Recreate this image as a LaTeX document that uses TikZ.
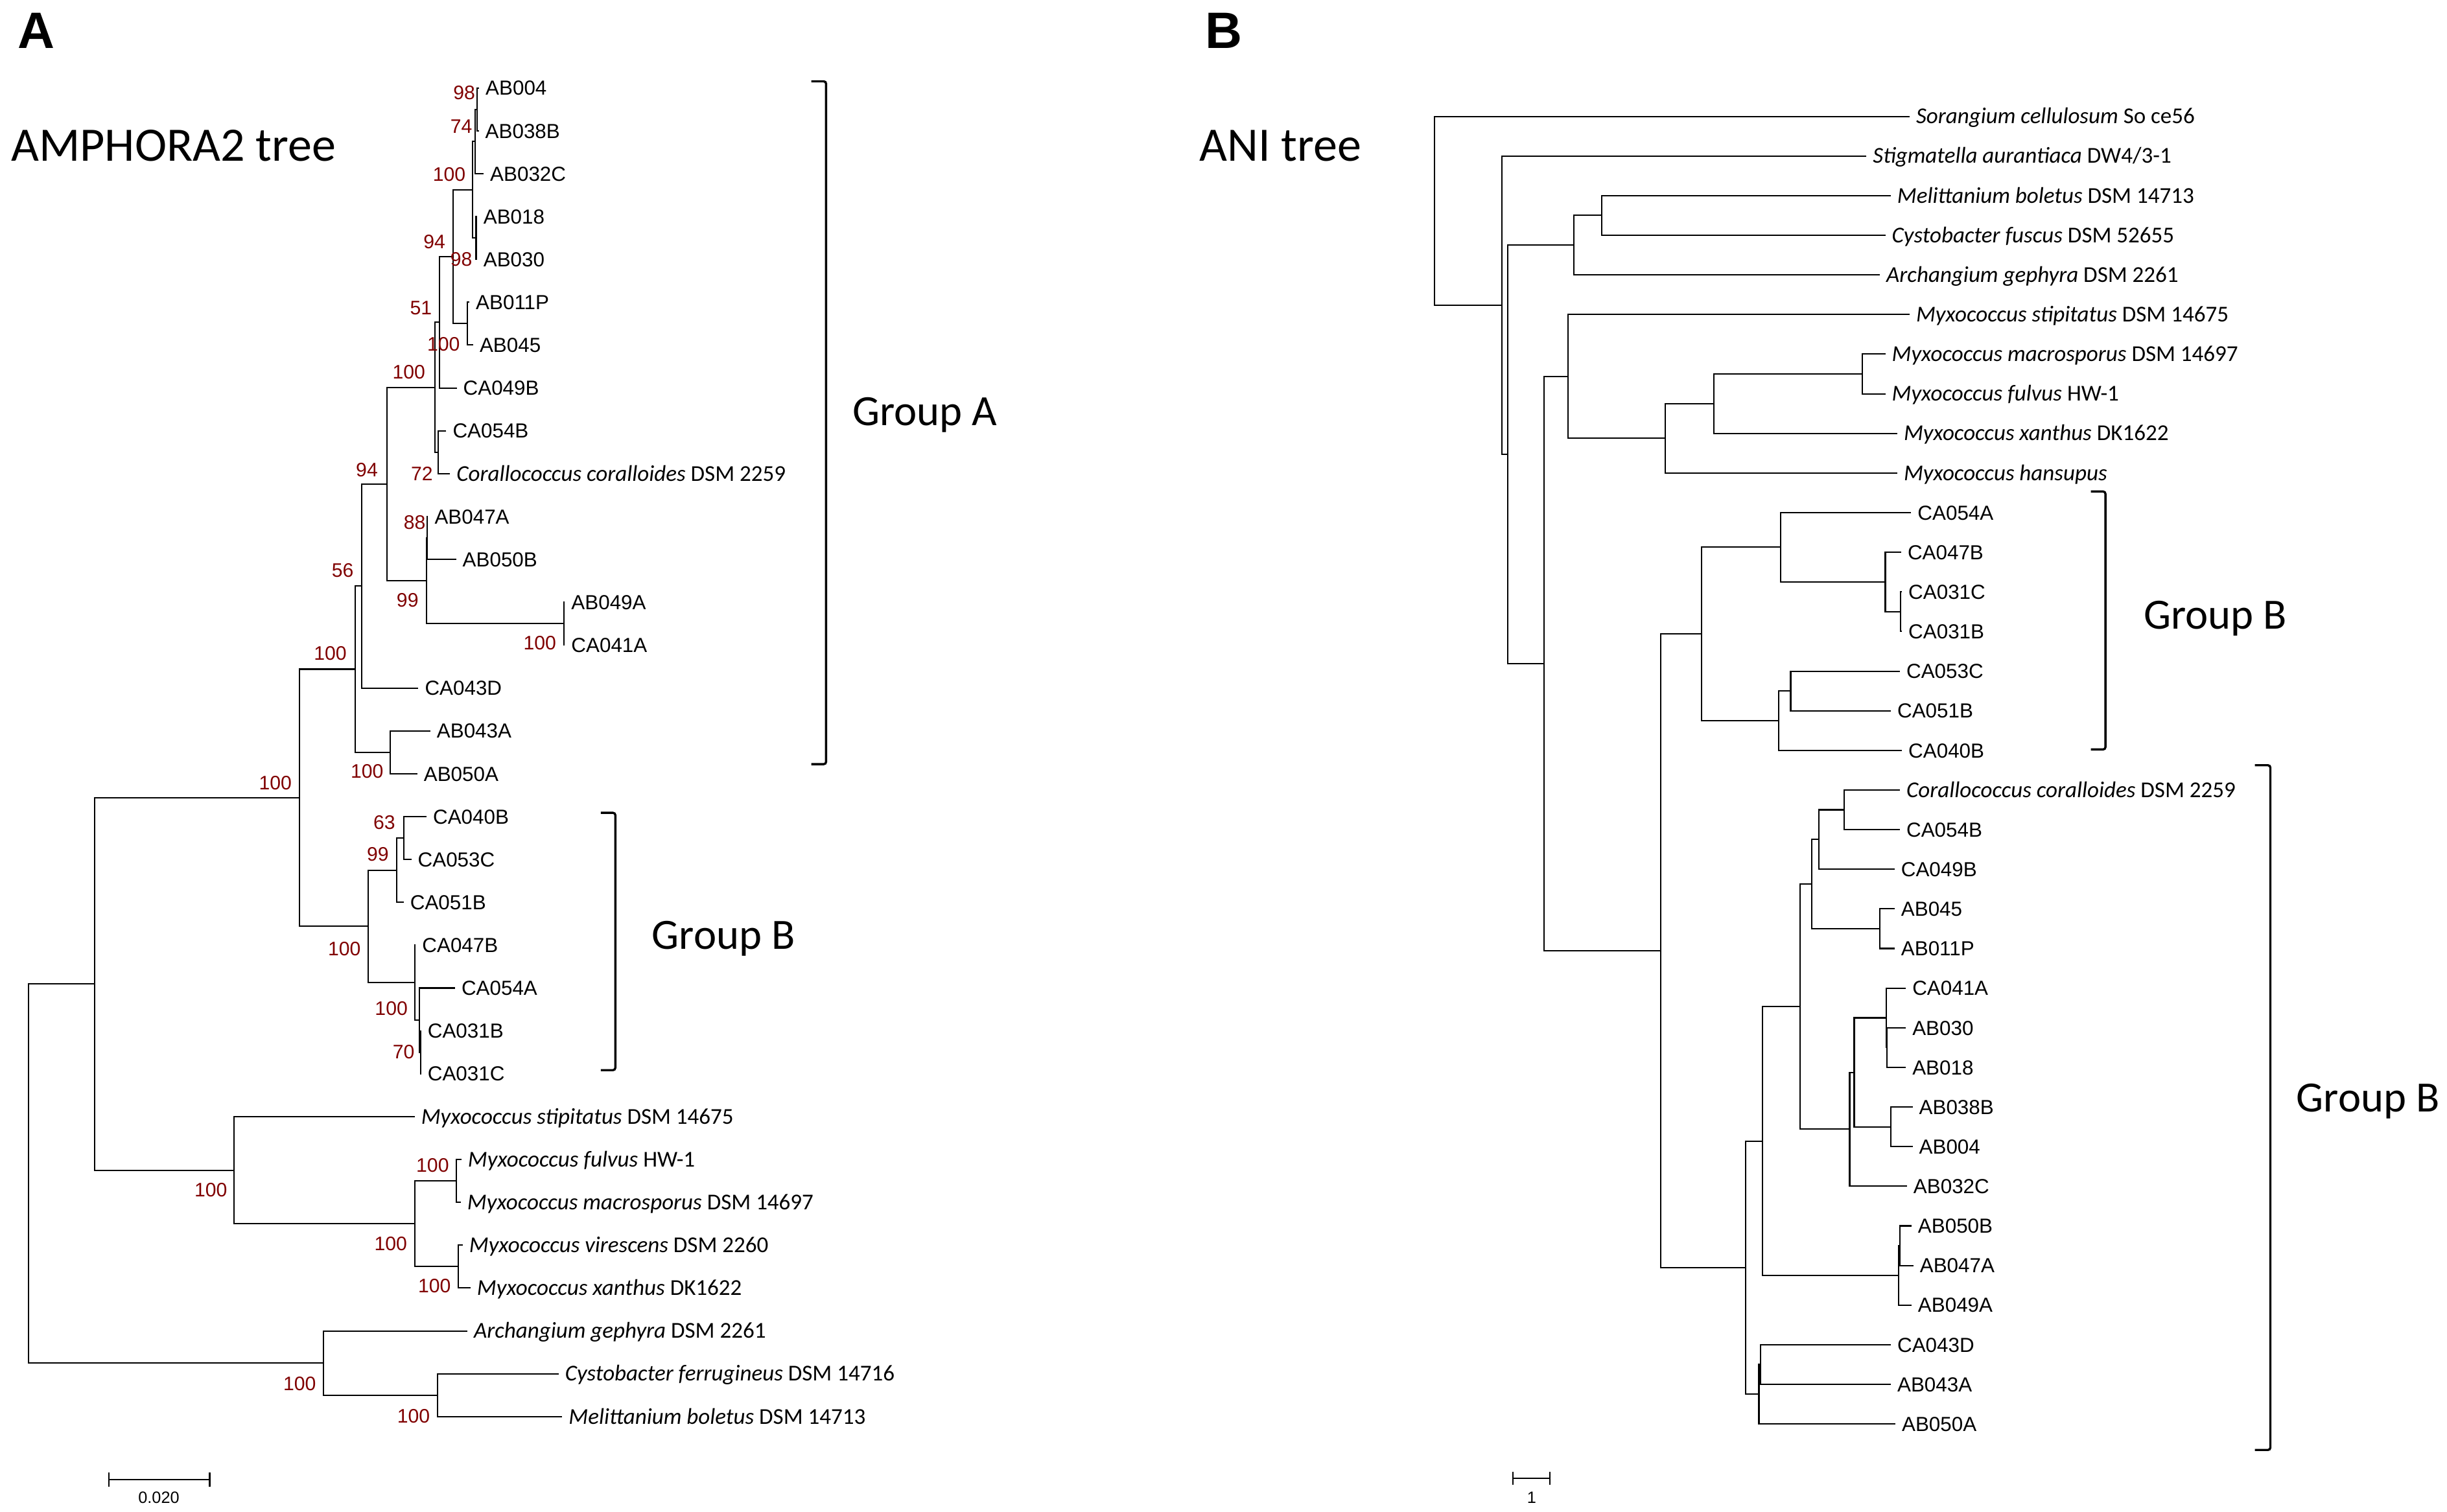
\documentclass[tikz,border=0pt]{standalone}
\usepackage{fontspec}
\setmainfont{Liberation Sans}
\newfontfamily\carlito{Carlito}
\usetikzlibrary{calc}
\definecolor{bootred}{RGB}{128,0,0}
\tikzset{
    branch/.style = {
        line width=0.85pt,
        },
    bracket/.style = {
        line width=1.4pt,
        rounded corners=1.5pt,
        },
    lab/.style = {
        anchor=west, inner sep=4pt,
        font=\fontsize{13}{13}\selectfont,
        text height=9.3pt, text depth=0pt,
        },
    sp/.style = {
        anchor=west, inner sep=4pt,
        font=\carlito\fontsize{14.5}{14.5}\selectfont,
        text height=9.3pt, text depth=0pt,
        },
    boot/.style = {
        inner sep=0pt, text=bootred,
        font=\fontsize{12.5}{12.5}\selectfont,
        text height=9pt, text depth=0pt,
        },
    grp/.style = {
        anchor=west, inner sep=0pt,
        font=\carlito\fontsize{27.6}{27.6}\selectfont,
        text height=17.8pt, text depth=0pt,
        },
    ttl/.style = {
        anchor=west, inner sep=0pt,
        font=\carlito\fontsize{30.7}{30.7}\selectfont,
        text height=19.8pt, text depth=0pt,
        },
    panel/.style = {
        anchor=west, inner sep=0pt,
        font=\bfseries\fontsize{32.7}{32.7}\selectfont,
        text height=23.4pt, text depth=0pt,
        },
    scalebar/.style = {
        line width=0.9pt,
        },
    sblab/.style = {
        inner sep=0pt,
        font=\fontsize{10.5}{10.5}\selectfont,
        },
}
% clade: name, x of the node, upper child, lower child
\newcommand{\clade}[4]{%
    \path let \p1=($(#3)!0.5!(#4)$) in (#2pt,\y1) coordinate (#1);
    \draw[branch] (#3) -| (#1) |- (#4);
}

\begin{document}
\begin{tikzpicture}[x=1pt, y=-1pt]
    \fill[white] (0,0) rectangle (1564,966.2);
    \useasboundingbox (0,0) rectangle (1564,966.2);

    % panel A: AMPHORA2 tree
    \node[panel] (pA) at (11,19.3) {A};
    \node[ttl] (tA) at (7,93) {AMPHORA2 tree};

    \foreach \i/\n/\x/\s/\t in {
        1/aAB004/306.2/lab/AB004, 2/aAB038B/306.0/lab/AB038B,
        3/aAB032C/309.1/lab/AB032C, 4/aAB018/304.8/lab/AB018,
        5/aAB030/304.8/lab/AB030, 6/aAB011P/300.0/lab/AB011P,
        7/aAB045/302.4/lab/AB045, 8/aCA049B/291.9/lab/CA049B,
        9/aCA054B/285.2/lab/CA054B,
        10/aCcor/287.6/sp/{\textit{Corallococcus coralloides} DSM 2259},
        11/aAB047A/273.6/lab/AB047A, 12/aAB050B/291.5/lab/AB050B,
        13/aAB049A/361.0/lab/AB049A, 14/aCA041A/361.0/lab/CA041A,
        15/aCA043D/267.4/lab/CA043D, 16/aAB043A/275.0/lab/AB043A,
        17/aAB050A/266.7/lab/AB050A, 18/aCA040B/272.6/lab/CA040B,
        19/aCA053C/262.9/lab/CA053C, 20/aCA051B/258.0/lab/CA051B,
        21/aCA047B/265.7/lab/CA047B, 22/aCA054A/290.8/lab/CA054A,
        23/aCA031B/269.2/lab/CA031B, 24/aCA031C/269.2/lab/CA031C,
        25/aMsti/265.0/sp/{\textit{Myxococcus stipitatus} DSM 14675},
        26/aMful/294.9/sp/{\textit{Myxococcus fulvus} HW-1},
        27/aMmac/294.5/sp/{\textit{Myxococcus macrosporus} DSM 14697},
        28/aMvir/295.7/sp/{\textit{Myxococcus virescens} DSM 2260},
        29/aMxan/300.7/sp/{\textit{Myxococcus xanthus} DK1622},
        30/aAgep/298.7/sp/{\textit{Archangium gephyra} DSM 2261},
        31/aCfer/357.0/sp/{\textit{Cystobacter ferrugineus} DSM 14716},
        32/aMbol/359.3/sp/{\textit{Melittanium boletus} DSM 14713}}
    {
        \coordinate (\n) at (\x,{56.2+(\i-1)*27.4});
        \node[\s] (t\n) at (\n) {\t};
    }

    \clade{aN1}{305.0}{aAB004}{aAB038B}
    \clade{aN2}{303.6}{aN1}{aAB032C}
    \clade{aN3}{304.3}{aAB018}{aAB030}
    \clade{aN4}{302.2}{aN2}{aN3}
    \clade{aN5}{298.8}{aAB011P}{aAB045}
    \clade{aN6}{289.5}{aN4}{aN5}
    \clade{aN7}{280.9}{aN6}{aCA049B}
    \clade{aN8}{280.0}{aCA054B}{aCcor}
    \clade{aN9}{278.0}{aN7}{aN8}
    \clade{aN10}{273.0}{aAB047A}{aAB050B}
    \clade{aN11}{360.5}{aAB049A}{aCA041A}
    \clade{aN12}{272.6}{aN10}{aN11}
    \clade{aN13}{247.3}{aN9}{aN12}
    \clade{aN14}{231.2}{aN13}{aCA043D}
    \clade{aN15}{249.4}{aAB043A}{aAB050A}
    \clade{aN16}{227.0}{aN14}{aN15}
    \clade{aN17}{258.0}{aCA040B}{aCA053C}
    \clade{aN18}{253.6}{aN17}{aCA051B}
    \clade{aN19}{268.8}{aCA031B}{aCA031C}
    \clade{aN20}{268.0}{aCA054A}{aN19}
    \clade{aN21}{265.0}{aCA047B}{aN20}
    \clade{aN22}{235.3}{aN18}{aN21}
    \clade{aN23}{191.5}{aN16}{aN22}
    \clade{aN24}{291.8}{aMful}{aMmac}
    \clade{aN25}{293.0}{aMvir}{aMxan}
    \clade{aN26}{265.0}{aN24}{aN25}
    \clade{aN27}{149.4}{aMsti}{aN26}
    \clade{aN28}{60.5}{aN23}{aN27}
    \clade{aN29}{279.6}{aCfer}{aMbol}
    \clade{aN30}{206.8}{aAgep}{aN29}
    \clade{aN31}{18.4}{aN28}{aN30}

    % bootstrap values
    \foreach \x/\y/\v [count=\k] in {
        296.7/59.1/98, 294.8/80.5/74, 287.1/111.2/100, 294.8/165.5/98,
        277.6/154.4/94, 269.0/196.8/51, 283.5/220.0/100, 261.3/237.7/100,
        269.7/302.8/72, 234.5/300.4/94, 265.0/333.8/88, 219.0/364.3/56,
        260.5/383.4/99, 345.0/410.8/100, 211.1/417.4/100, 234.6/493.0/100,
        176.0/500.5/100, 245.6/525.7/63, 241.5/546.1/99, 220.1/606.4/100,
        250.1/644.3/100, 258.0/672.2/70, 276.5/744.8/100, 134.8/760.7/100,
        249.7/794.9/100, 277.7/822.0/100, 191.5/884.2/100, 264.3/905.0/100}
        \node[boot] (bs\k) at (\x,\y) {\v};

    % groups
    \draw[bracket] (518.5,52) -- (528,52) -- (528,488.5) -- (518.5,488.5);
    \node[grp] (gA) at (544.7,263) {Group A};
    \draw[bracket] (384,519.6) -- (393.3,519.6) -- (393.3,684.1) -- (384,684.1);
    \node[grp] (gB1) at (416.5,598) {Group B};

    % scale bar
    \coordinate (sa1) at (69.7,945.8);
    \coordinate (sa2) at (134,945.8);
    \draw[scalebar] (sa1) -- (sa2);
    \draw[scalebar] ([yshift=4.5pt]sa1) -- ([yshift=-4.5pt]sa1);
    \draw[scalebar] ([yshift=4.5pt]sa2) -- ([yshift=-4.5pt]sa2);
    \node[sblab] (sla) at (101.5,957.2) {0.020};

    % panel B: ANI tree
    \node[panel] (pB) at (770,19.3) {B};
    \node[ttl] (tB) at (766.4,93) {ANI tree};

    \foreach \i/\n/\x/\s/\t in {
        1/bScel/1220.5/sp/{\textit{Sorangium cellulosum} So ce56},
        2/bSaur/1192.9/sp/{\textit{Stigmatella aurantiaca} DW4/3-1},
        3/bMbol/1208.4/sp/{\textit{Melittanium boletus} DSM 14713},
        4/bCfus/1205.0/sp/{\textit{Cystobacter fuscus} DSM 52655},
        5/bAgep/1201.5/sp/{\textit{Archangium gephyra} DSM 2261},
        6/bMsti/1220.5/sp/{\textit{Myxococcus stipitatus} DSM 14675},
        7/bMmac/1205.0/sp/{\textit{Myxococcus macrosporus} DSM 14697},
        8/bMful/1205.0/sp/{\textit{Myxococcus fulvus} HW-1},
        9/bMxan/1212.6/sp/{\textit{Myxococcus xanthus} DK1622},
        10/bMhan/1212.6/sp/{\textit{Myxococcus hansupus}},
        11/bCA054A/1221.5/lab/CA054A, 12/bCA047B/1215.1/lab/CA047B,
        13/bCA031C/1215.6/lab/CA031C, 14/bCA031B/1215.6/lab/CA031B,
        15/bCA053C/1214.3/lab/CA053C, 16/bCA051B/1208.5/lab/CA051B,
        17/bCA040B/1215.6/lab/CA040B,
        18/bCcor/1214.3/sp/{\textit{Corallococcus coralloides} DSM 2259},
        19/bCA054B/1214.3/lab/CA054B, 20/bCA049B/1210.9/lab/CA049B,
        21/bAB045/1210.9/lab/AB045, 22/bAB011P/1210.9/lab/AB011P,
        23/bCA041A/1218.1/lab/CA041A, 24/bAB030/1218.1/lab/AB030,
        25/bAB018/1218.1/lab/AB018, 26/bAB038B/1222.4/lab/AB038B,
        27/bAB004/1222.4/lab/AB004, 28/bAB032C/1218.8/lab/AB032C,
        29/bAB050B/1221.7/lab/AB050B, 30/bAB047A/1222.9/lab/AB047A,
        31/bAB049A/1221.7/lab/AB049A, 32/bCA043D/1208.5/lab/CA043D,
        33/bAB043A/1208.5/lab/AB043A, 34/bAB050A/1211.4/lab/AB050A}
    {
        \coordinate (\n) at (\x,{74.4+(\i-1)*25.33});
        \node[\s] (t\n) at (\n) {\t};
    }

    \clade{bW}{1023.9}{bMbol}{bCfus}
    \clade{bZ}{1005.9}{bW}{bAgep}
    \clade{bR}{1190.1}{bMmac}{bMful}
    \clade{bS}{1095.3}{bR}{bMxan}
    \clade{bT}{1064.2}{bS}{bMhan}
    \clade{bU}{1002.1}{bMsti}{bT}
    \clade{bG3}{1214.9}{bCA031C}{bCA031B}
    \clade{bG2}{1205.0}{bCA047B}{bG3}
    \clade{bG1}{1138.1}{bCA054A}{bG2}
    \clade{bG5}{1144.5}{bCA053C}{bCA051B}
    \clade{bG4}{1137.0}{bG5}{bCA040B}
    \clade{bGB}{1087.7}{bG1}{bG4}
    \clade{bH1}{1178.5}{bCcor}{bCA054B}
    \clade{bH2}{1162.5}{bH1}{bCA049B}
    \clade{bH3}{1201.6}{bAB045}{bAB011P}
    \clade{bH4}{1158.0}{bH2}{bH3}
    \clade{bH5}{1206.2}{bAB030}{bAB018}
    \clade{bH6}{1205.7}{bCA041A}{bH5}
    \clade{bH7}{1208.5}{bAB038B}{bAB004}
    \clade{bH8}{1185.1}{bH6}{bH7}
    \clade{bH9}{1182.2}{bH8}{bAB032C}
    \clade{bH10}{1150.5}{bH4}{bH9}
    \clade{bH11}{1214.5}{bAB050B}{bAB047A}
    \clade{bH12}{1213.3}{bH11}{bAB049A}
    \clade{bH13}{1126.6}{bH10}{bH12}
    \clade{bH14}{1125.4}{bCA043D}{bAB043A}
    \clade{bH15}{1124.2}{bH14}{bAB050A}
    \clade{bH16}{1115.8}{bH13}{bH15}
    \clade{bQ1}{1061.5}{bGB}{bH16}
    \clade{bV}{987.0}{bU}{bQ1}
    \clade{bY}{963.5}{bZ}{bV}
    \clade{bX}{960.0}{bSaur}{bY}
    \clade{bRt}{916.9}{bScel}{bX}

    % groups
    \draw[bracket] (1336.4,314.2) -- (1345.7,314.2) -- (1345.7,479.1) -- (1336.4,479.1);
    \node[grp] (gB2) at (1370,393) {Group B};
    \draw[bracket] (1441.2,489.2) -- (1451.1,489.2) -- (1451.1,926.9) -- (1441.2,926.9);
    \node[grp] (gB3) at (1467.6,702) {Group B};

    % scale bar
    \coordinate (sb1) at (967.1,945);
    \coordinate (sb2) at (990.6,945);
    \draw[scalebar] (sb1) -- (sb2);
    \draw[scalebar] ([yshift=4.2pt]sb1) -- ([yshift=-4.2pt]sb1);
    \draw[scalebar] ([yshift=4.2pt]sb2) -- ([yshift=-4.2pt]sb2);
    \node[sblab] (slb) at (979,957.2) {1};
\end{tikzpicture}
\end{document}
